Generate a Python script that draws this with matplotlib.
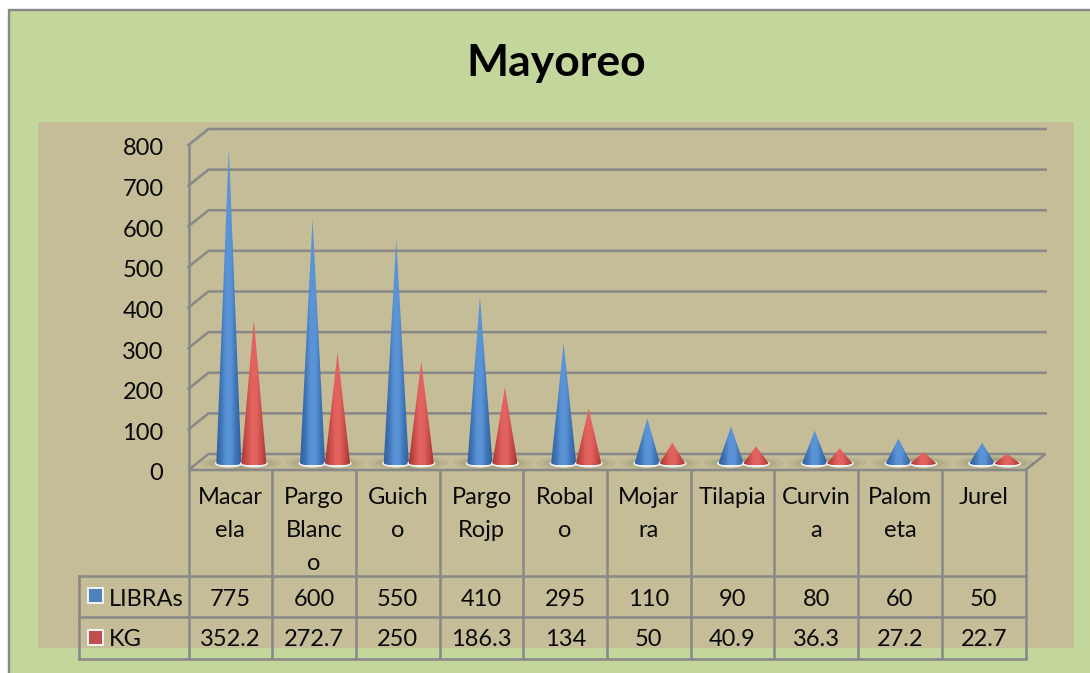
import numpy as np
import matplotlib
matplotlib.use("Agg")
import matplotlib.pyplot as plt
from matplotlib.patches import Rectangle, Polygon, Ellipse
from matplotlib.colors import LinearSegmentedColormap
from matplotlib.transforms import ScaledTranslation

plt.rcParams['font.family'] = ['Lato', 'DejaVu Sans']

title = "Mayoreo"
categories = ["Macar\nela", "Pargo\nBlanc\no", "Guich\no", "Pargo\nRojp", "Robal\no",
              "Mojar\nra", "Tilapia", "Curvin\na", "Palom\neta", "Jurel"]
libras = [775, 600, 550, 410, 295, 110, 90, 80, 60, 50]
kg = [352.2, 272.7, 250, 186.3, 134, 50, 40.9, 36.3, 27.2, 22.7]
libras_labels = ["775", "600", "550", "410", "295", "110", "90", "80", "60", "50"]
kg_labels = ["352.2", "272.7", "250", "186.3", "134", "50", "40.9", "36.3", "27.2", "22.7"]
yticks = [0, 100, 200, 300, 400, 500, 600, 700, 800]

W, H = 1090, 673
LINE = '#898989'
GREEN = '#C3D69B'
TAN = '#C4BD97'
TXT = '#0a0a0a'
FS = 17
LW = 1.85

fig = plt.figure(figsize=(W / 100, H / 100), dpi=100, facecolor='white')

# pixel-space background / table layer
bg = fig.add_axes([0, 0, 1, 1], zorder=0)
bg.set_xlim(0, W); bg.set_ylim(H, 0); bg.axis('off')
bg.add_patch(Rectangle((9, 10), W, H, fc=GREEN, ec=LINE, lw=1.7))
bg.add_patch(Rectangle((38, 122), 1036, 526, fc=TAN, ec='none'))

# plot axes: front face of the 3-D box
L, R, T, B = 188.5, 1025.5, 145.0, 470.0
ax = fig.add_axes([L / W, 1 - B / H, (R - L) / W, (B - T) / H], zorder=1)
ax.patch.set_visible(False)
ax.set_xlim(-0.5, 9.5); ax.set_ylim(0, 800)
for s in ax.spines.values():
    s.set_visible(False)
ax.set_xticks([])
ax.set_yticks(yticks)
ax.tick_params(axis='y', length=0, pad=18, labelsize=FS, labelcolor=TXT)
shift = ScaledTranslation(0, -2 / 100, fig.dpi_scale_trans)
for lab in ax.get_yticklabels():
    lab.set_transform(lab.get_transform() + shift)

pxx = (R - L) / 10           # pixels per category
pxy = (B - T) / 800          # pixels per value
dx, dy = 20 / pxx, 16 / pxy  # depth offset in data units

# walls: gridlines
for v in yticks[1:]:
    ax.plot([-0.5, -0.5 + dx, 9.5 + dx], [v, v + dy, v + dy], color=LINE, lw=LW,
            clip_on=False, zorder=1, solid_joinstyle='miter')
ax.plot([-0.5, -0.5], [0, 800], color=LINE, lw=LW, clip_on=False, zorder=1)
ax.add_patch(Polygon([(-0.5, 0), (-0.5 + dx, dy), (9.5 + dx, dy), (9.5, 0)], closed=True,
                     fc='none', ec=LINE, lw=LW, clip_on=False, zorder=1))

blue = LinearSegmentedColormap.from_list('b', ['#2f5f9c', '#3f74b6', '#5a93d6', '#5a93d6', '#3f74b6', '#2f5f9c'])
red = LinearSegmentedColormap.from_list('r', ['#a03533', '#c84c49', '#e2625f', '#e2625f', '#c84c49', '#a03533'])
grad = np.linspace(0, 1, 128).reshape(1, -1)

base_y = 7 / pxy    # base centre, mid depth
hw = 12.5 / pxx     # half base width
hh = 2.5 / pxy      # half base height


def floor_shadow(cx):
    # soft elongated shadow on the floor around a pair of cones
    for f, a in ((1.0, 0.07), (0.82, 0.09), (0.64, 0.11), (0.46, 0.13)):
        ax.add_patch(Ellipse((cx, base_y), f * 80 / pxx, f * 14 / pxy, fc='#4d4a38', ec='none',
                             alpha=a, clip_on=False, zorder=1.5))


def cone(cx, value, cmap, z):
    y0 = base_y
    tip = y0 + value
    t = np.linspace(np.pi, 2 * np.pi, 40)
    arc = [(cx + hw * np.cos(a), y0 + hh * np.sin(a)) for a in t]
    ax.add_patch(Ellipse((cx, y0 - 0.5 / pxy), 2 * hw + 3 / pxx, 2 * hh + 3 / pxy, fc='#f0f0f0', ec='none',
                         clip_on=False, zorder=z + 0.1))
    poly = Polygon([(cx, tip)] + arc, closed=True, transform=ax.transData, fc='none', ec='none',
                   zorder=z + 0.2, clip_on=False)
    ax.add_patch(poly)
    im = ax.imshow(grad, extent=[cx - hw, cx + hw, y0 - hh, tip], aspect='auto', cmap=cmap,
                   zorder=z + 0.3, interpolation='bilinear')
    im.set_clip_path(poly)


offset = 11 / pxx
sep = 12.5 / pxx
for i, (a, b) in enumerate(zip(libras, kg)):
    floor_shadow(i + offset)
    cone(i + offset - sep, a, blue, 2 + i * 0.01)
    cone(i + offset + sep, b, red, 3 + i * 0.01)
ax.set_xlim(-0.5, 9.5); ax.set_ylim(0, 800)

# overlay for table and title
tb = fig.add_axes([0, 0, 1, 1], zorder=2)
tb.set_xlim(0, W); tb.set_ylim(H, 0); tb.axis('off'); tb.patch.set_visible(False)

tb.text(556, 63, title, ha='center', va='center', fontsize=32, fontweight='bold', color='black')

row_top, row1, row2, row3 = 470, 576, 617, 659
for i in range(11):
    x = L + i * pxx
    tb.plot([x, x], [row_top, row3], color=LINE, lw=LW, solid_capstyle='butt')
tb.plot([79, 79], [row1, row3], color=LINE, lw=LW, solid_capstyle='projecting')
for y in (row1, row2, row3):
    tb.plot([79, R], [y, y], color=LINE, lw=LW, solid_capstyle='projecting')

for i, c in enumerate(categories):
    xc = L + (i + 0.5) * pxx
    for j, part in enumerate(c.split("\n")):
        tb.text(xc, 498 + j * 32.5, part, ha='center', va='center', fontsize=FS, color=TXT)
    tb.text(xc, 599, libras_labels[i], ha='center', va='center', fontsize=FS, color=TXT)
    tb.text(xc, 640, kg_labels[i], ha='center', va='center', fontsize=FS, color=TXT)

tb.add_patch(Rectangle((88, 588), 15, 15, fc='#4F81BD', ec='#f4f4f4', lw=1.4))
tb.add_patch(Rectangle((88, 630), 15, 15, fc='#C0504D', ec='#f4f4f4', lw=1.4))
tb.text(109, 599, "LIBRAs", ha='left', va='center', fontsize=FS, color=TXT)
tb.text(109, 640, "KG", ha='left', va='center', fontsize=FS, color=TXT)

fig.savefig('out.png', dpi=100, facecolor='white')
